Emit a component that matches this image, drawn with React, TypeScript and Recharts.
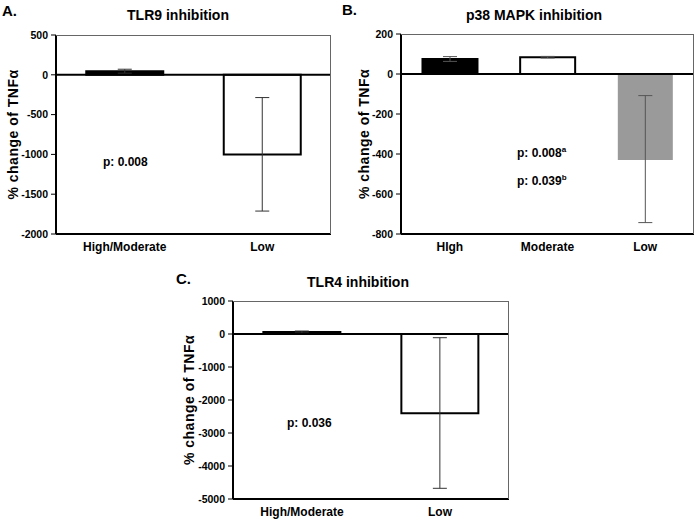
import React from "react";
import {
  BarChart,
  Bar,
  Cell,
  XAxis,
  YAxis,
  ErrorBar,
  ReferenceLine,
} from "recharts";

// Panel A: TLR9 inhibition
const tlr9Groups = ["High/Moderate", "Low"];
const tlr9Values = [45, -1000];
const tlr9Errors = [[25, 25], [712, 714]];
const tlr9Ticks = [500, 0, -500, -1000, -1500, -2000];

// Panel B: p38 MAPK inhibition
const p38Groups = ["HIgh", "Moderate", "Low"];
const p38Values = [75, 84, -430];
const p38Errors = [[12, 12], [4, 4], [313, 322]];
const p38Ticks = [200, 0, -200, -400, -600, -800];

// Panel C: TLR4 inhibition
const tlr4Groups = ["High/Moderate", "Low"];
const tlr4Values = [60, -2400];
const tlr4Errors = [[30, 30], [2276, 2288]];
const tlr4Ticks = [1000, 0, -1000, -2000, -3000, -4000, -5000];

const FONT = "'Liberation Sans', Arial, sans-serif";
const X_AXIS_HEIGHT = 20;

interface BarStyle {
  fill: string;
  stroke: string;
}

const BLACK: BarStyle = { fill: "#000", stroke: "#000" };
const WHITE: BarStyle = { fill: "#fff", stroke: "#000" };
const GRAY: BarStyle = { fill: "#9a9a9a", stroke: "none" };

interface PanelProps {
  groups: string[];
  values: number[];
  errors: number[][];
  ticks: number[];
  styles: BarStyle[];
  left: number;
  top: number;
  width: number;
  height: number;
  margin: { top: number; right: number; bottom: number; left: number };
  yAxisWidth: number;
  labelOffset: number;
  errorColor: string;
}

const Panel = ({
  groups,
  values,
  errors,
  ticks,
  styles,
  left,
  top,
  width,
  height,
  margin,
  yAxisWidth,
  labelOffset,
  errorColor,
}: PanelProps) => {
  const data = groups.map((name, i) => ({
    name,
    value: values[i],
    err: errors[i],
  }));
  // plot box derived from the chart margins, used for the gray top/right frame
  const plotLeft = margin.left + yAxisWidth;
  const plotTop = margin.top;
  const plotW = width - margin.right - plotLeft;
  const plotH = height - margin.bottom - X_AXIS_HEIGHT - plotTop;
  return (
    <div style={{ position: "absolute", left, top, width, height }}>
      <div style={{ position: "absolute", left: 0, top: 0 }}>
        <BarChart
          width={width}
          height={height}
          data={data}
          margin={margin}
          barCategoryGap="22%"
        >
          <XAxis
            dataKey="name"
            axisLine={{ stroke: "#000", strokeWidth: 2 }}
            tickLine={false}
            tick={{ fill: "#000", fontSize: 12, fontWeight: "bold", fontFamily: FONT }}
            height={X_AXIS_HEIGHT}
            interval={0}
          />
          <YAxis
            width={yAxisWidth}
            domain={[ticks[ticks.length - 1], ticks[0]]}
            ticks={ticks}
            interval={0}
            allowDataOverflow
            axisLine={{ stroke: "#000", strokeWidth: 2 }}
            tickLine={{ stroke: "#000", strokeWidth: 1 }}
            tickSize={5}
            tickMargin={3}
            tick={{ fill: "#000", fontSize: 10.5, fontWeight: "bold", fontFamily: FONT }}
            label={{
              value: "% change of TNFα",
              angle: -90,
              position: "insideLeft",
              offset: labelOffset,
              style: {
                textAnchor: "middle",
                fill: "#000",
                fontSize: 14,
                letterSpacing: 0.5,
                fontWeight: "bold",
                fontFamily: FONT,
              },
            }}
          />
          <Bar dataKey="value" strokeWidth={2} isAnimationActive={false}>
            {data.map((d, i) => (
              <Cell key={d.name} fill={styles[i].fill} stroke={styles[i].stroke} />
            ))}
            <ErrorBar
              dataKey="err"
              width={7}
              stroke={errorColor}
              strokeWidth={1}
              isAnimationActive={false}
            />
          </Bar>
          <ReferenceLine y={0} stroke="#000" strokeWidth={2} />
        </BarChart>
      </div>
      <div
        style={{
          position: "absolute",
          left: plotLeft,
          top: plotTop,
          width: plotW,
          height: plotH,
          borderTop: "1px solid #666",
          borderRight: "1px solid #666",
          boxSizing: "border-box",
          pointerEvents: "none",
        }}
      />
    </div>
  );
};

const textBase: React.CSSProperties = {
  position: "absolute",
  fontFamily: FONT,
  fontWeight: "bold",
  color: "#000",
  lineHeight: 1,
  whiteSpace: "nowrap",
  transform: "translateY(-50%)",
};

const Title = ({ x, y, children }: { x: number; y: number; children: React.ReactNode }) => (
  <div style={{ ...textBase, left: x, top: y, fontSize: 14, transform: "translate(-50%, -50%)" }}>
    {children}
  </div>
);

const Letter = ({ x, y, children }: { x: number; y: number; children: React.ReactNode }) => (
  <div style={{ ...textBase, left: x, top: y, fontSize: 15 }}>{children}</div>
);

const Note = ({ x, y, children }: { x: number; y: number; children: React.ReactNode }) => (
  <div style={{ ...textBase, left: x, top: y, fontSize: 12 }}>{children}</div>
);

const sup: React.CSSProperties = { fontSize: 8, verticalAlign: "top", position: "relative", top: -1 };

export default function App() {
  return (
    <div
      style={{
        position: "absolute",
        left: 0,
        top: 0,
        width: 696,
        height: 520,
        background: "#fff",
        overflow: "hidden",
      }}
    >
      <Panel
        groups={tlr9Groups}
        values={tlr9Values}
        errors={tlr9Errors}
        ticks={tlr9Ticks}
        styles={[BLACK, WHITE]}
        left={0}
        top={0}
        width={340}
        height={260}
        margin={{ top: 35, right: 9, bottom: 6, left: 0 }}
        yAxisWidth={56}
        labelOffset={13}
        errorColor="#333"
      />
      <Panel
        groups={p38Groups}
        values={p38Values}
        errors={p38Errors}
        ticks={p38Ticks}
        styles={[BLACK, WHITE, GRAY]}
        left={340}
        top={0}
        width={356}
        height={260}
        margin={{ top: 34, right: 2, bottom: 6, left: 0 }}
        yAxisWidth={61}
        labelOffset={24}
        errorColor="#555"
      />
      <Panel
        groups={tlr4Groups}
        values={tlr4Values}
        errors={tlr4Errors}
        ticks={tlr4Ticks}
        styles={[BLACK, WHITE]}
        left={150}
        top={260}
        width={370}
        height={260}
        margin={{ top: 41, right: 11, bottom: 1, left: 0 }}
        yAxisWidth={83}
        labelOffset={39}
        errorColor="#333"
      />

      <Letter x={2} y={10}>A.</Letter>
      <Title x={178} y={15}>TLR9 inhibition</Title>
      <Note x={103} y={162}>p: 0.008</Note>

      <Letter x={342} y={9}>B.</Letter>
      <Title x={534} y={15}>p38 MAPK inhibition</Title>
      <Note x={517} y={153}>
        p: 0.008<span style={sup}>a</span>
      </Note>
      <Note x={517} y={181}>
        p: 0.039<span style={sup}>b</span>
      </Note>

      <Letter x={176} y={278}>C.</Letter>
      <Title x={358} y={282}>TLR4 inhibition</Title>
      <Note x={287} y={423}>p: 0.036</Note>
    </div>
  );
}
